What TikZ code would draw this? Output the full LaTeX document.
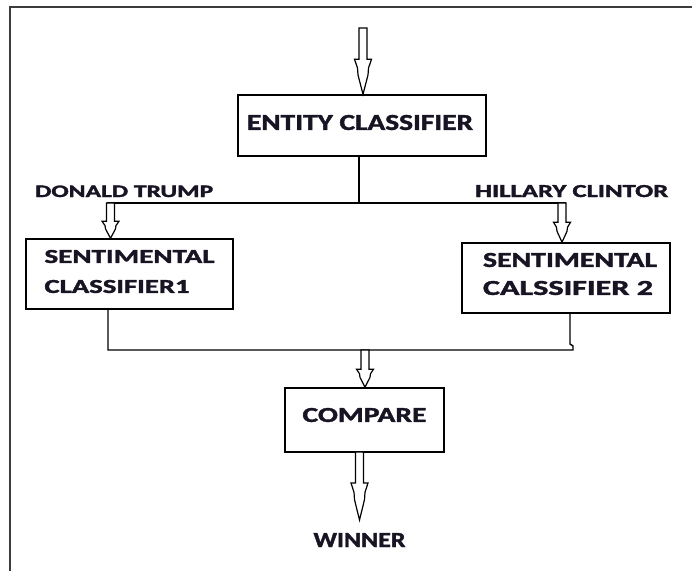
\documentclass[tikz,border=0pt]{standalone}
\usepackage{fontspec}
\usepackage{graphicx}
\setmainfont{Carlito}
\newfontfamily\heavyfont{Carlito}[BoldFeatures={FakeBold=1.6}]
\usetikzlibrary{calc}

% heavy caps text stretched to a given width and cap height (in pt)
\newcommand\capfit[3]{\resizebox{#1pt}{#2pt}{\heavyfont\bfseries #3}}

\definecolor{inkc}{RGB}{25,20,35}
\definecolor{framec}{RGB}{60,60,60}

% hollow block arrow from a top point down to a tip, head length #3
\newcommand\hollowarrow[3]{%
  \draw[arrowline]
    ($(#1)+(-4,0)$) -- ($(#2)+(-4,-#3)$) -- ($(#2)+(-8.5,-#3)$)
    -- ($(#2)+(-5.5,-0.75*#3)$) -- ($(#2)+(-5,-0.55*#3)$) -- (#2)
    -- ($(#2)+(5,-0.55*#3)$) -- ($(#2)+(5.5,-0.75*#3)$)
    -- ($(#2)+(8.5,-#3)$) -- ($(#2)+(4,-#3)$) -- ($(#1)+(4,0)$) -- cycle;}

\tikzset{
  frame/.style={draw=framec, line width=2.2pt},
  box/.style={draw=black, line width=1.5pt, rectangle, inner sep=0pt},
  conn/.style={draw=black, line width=1.4pt},
  arrowline/.style={draw=black, line width=1.2pt, fill=white, line join=miter},
  boxtext/.style={text=inkc, align=left, inner sep=0pt},
  lbl/.style={text=inkc, inner sep=0pt, anchor=base west},
}

\begin{document}
\begin{tikzpicture}[x=1pt,y=-1pt]
  \useasboundingbox (0,0) rectangle (692,571);
  \fill[white] (0,0) rectangle (692,571);

  % outer frame (open to the right and bottom)
  \draw[frame] (692,7) -- (10,7) -- (10,571);

  % boxes
  \node[box, minimum width=248pt, minimum height=61pt,
        label={[boxtext, xshift=-2pt, yshift=3pt]center:\capfit{226}{15}{ENTITY CLASSIFIER}}]
        (entity) at (362,125.5) {};
  \node[box, minimum width=207pt, minimum height=70pt,
        label={[boxtext, font=\fontsize{20}{30}\selectfont, yshift=2.5pt]center:%
          \capfit{170}{13}{SENTIMENTAL}\\\capfit{145}{13}{CLASSIFIER1}}]
        (left) at (129.5,274) {};
  \node[box, minimum width=208pt, minimum height=70pt,
        label={[boxtext, font=\fontsize{20}{28}\selectfont, xshift=4pt, yshift=4pt]center:%
          \capfit{174}{14}{SENTIMENTAL}\\\capfit{170}{14}{CALSSIFIER 2}}]
        (right) at (566,278) {};
  \node[box, minimum width=159pt, minimum height=64pt,
        label={[boxtext, yshift=5pt]center:\capfit{124}{14}{COMPARE}}]
        (compare) at (364.5,420) {};

  % branch labels and result
  \node[lbl] (dtlabel) at (35,197) {\capfit{178}{11.5}{DONALD TRUMP}};
  \node[lbl] (hclabel) at (475,197) {\capfit{193}{12}{HILLARY CLINTOR}};
  \node[text=inkc, inner sep=0pt, anchor=base] (winner) at (359.5,547) {\capfit{92}{14}{WINNER}};

  % junction coordinates
  \coordinate (input) at (363,28);
  \coordinate (split) at (359,203);
  \coordinate (bl) at (107,203);
  \coordinate (br) at (566,203);
  \coordinate (dt) at (110.5,203);
  \coordinate (hc) at (562,203);
  \coordinate (ml) at (108,350);
  \coordinate (mr) at (573,350);
  \coordinate (mg) at (365,350);
  \coordinate (wtop) at (359.5,452);
  \coordinate (result) at (359.5,520);

  % connectors
  \draw[conn] (entity.south -| split) -- (split);
  \draw[conn] (bl) -- (br);
  \draw[conn] (left.south -| ml) -- (ml) -- (mr) -- ++(0,-4) -- ++(-3,-2) coordinate (kink)
              -- (kink |- right.south);

  % hollow arrows
  \hollowarrow{input}{input |- entity.north}{35}
  \hollowarrow{dt}{dt |- left.north}{17}
  \hollowarrow{hc}{hc |- right.north}{20}
  \hollowarrow{mg}{mg |- compare.north}{18}
  \hollowarrow{wtop}{result}{37}
\end{tikzpicture}
\end{document}
